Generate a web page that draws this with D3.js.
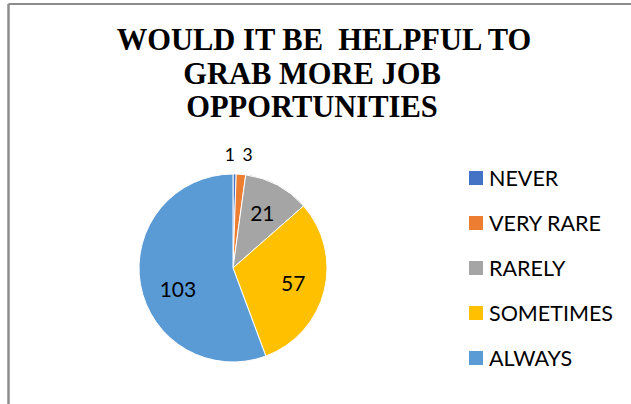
<!DOCTYPE html>
<html>
<head>
<meta charset="utf-8">
<script src="https://cdn.jsdelivr.net/npm/d3@7"></script>
<style>
  body { margin: 0; background: #fff; }
</style>
</head>
<body>
<div id="chart"></div>
<script>
const categories = ['NEVER', 'VERY RARE', 'RARELY', 'SOMETIMES', 'ALWAYS']
const counts = [1, 3, 21, 57, 103]
const colors = ['#4472C4', '#ED7D31', '#A5A5A5', '#FFC000', '#5B9BD5']
const titleLines = ['WOULD IT BE  HELPFUL TO', 'GRAB MORE JOB', 'OPPORTUNITIES']

const width = 631
const height = 404

const svg = d3.select('#chart')
  .append('svg')
  .attr('width', width)
  .attr('height', height)

// chart frame (only top and left edges are visible in the crop)
svg.append('line')
  .attr('x1', 8.5).attr('y1', 4).attr('x2', 631).attr('y2', 4)
  .attr('stroke', '#8c8c8c').attr('stroke-width', 2)
svg.append('line')
  .attr('x1', 8.5).attr('y1', 4).attr('x2', 8.5).attr('y2', 404)
  .attr('stroke', '#8c8c8c').attr('stroke-width', 2.5)

// title
svg.append('g')
  .selectAll('text')
  .data(titleLines)
  .enter()
  .append('text')
  .attr('x', (d, i) => i === 0 ? 324 : 312)
  .attr('y', (d, i) => 50 + i * 33.5)
  .attr('text-anchor', 'middle')
  .style('font-family', '"Liberation Serif", "Times New Roman", serif')
  .style('font-weight', 'bold')
  .style('font-size', '30.5px')
  .style('white-space', 'pre')
  .text(d => d)

// pie
const cx = 233
const cy = 268
const radius = 94

const pie = d3.pie().sort(null).value(d => d)
const arcs = pie(counts)
const arc = d3.arc().innerRadius(0).outerRadius(radius)

const g = svg.append('g').attr('transform', `translate(${cx},${cy})`)

g.selectAll('path')
  .data(arcs)
  .enter()
  .append('path')
  .attr('d', arc)
  .attr('fill', (d, i) => colors[i])
  .attr('stroke', '#fff')
  .attr('stroke-width', 1)

// data labels: small slices go outside, others inside (best-fit style nudges)
const inner = d3.arc().innerRadius(radius * 0.66).outerRadius(radius * 0.66)
const outer = d3.arc().innerRadius(radius * 1.21).outerRadius(radius * 1.21)
const nudge = [[-5, 0], [5, 0], [0, 0], [0, 0], [6, 10]]

g.selectAll('text')
  .data(arcs)
  .enter()
  .append('text')
  .attr('transform', (d, i) => {
    const c = d.value < 5 ? outer.centroid(d) : inner.centroid(d)
    return `translate(${c[0] + nudge[i][0]},${c[1] + nudge[i][1]})`
  })
  .attr('text-anchor', 'middle')
  .attr('dy', '0.36em')
  .style('font-family', 'Lato, "Open Sans", sans-serif')
  .style('font-size', d => d.value < 5 ? '17.5px' : '21px')
  .attr('fill', '#000')
  .text(d => d.value)

// legend
const legend = svg.append('g')
  .selectAll('g')
  .data(categories)
  .enter()
  .append('g')
  .attr('transform', (d, i) => `translate(469,${178 + i * 45})`)

legend.append('rect')
  .attr('x', 0)
  .attr('y', -7)
  .attr('width', 14)
  .attr('height', 14)
  .attr('fill', (d, i) => colors[i])

legend.append('text')
  .attr('x', 20)
  .attr('dy', '0.36em')
  .style('font-family', 'Lato, "Open Sans", sans-serif')
  .style('font-size', '21.5px')
  .attr('fill', '#000')
  .text(d => d)
</script>
</body>
</html>
